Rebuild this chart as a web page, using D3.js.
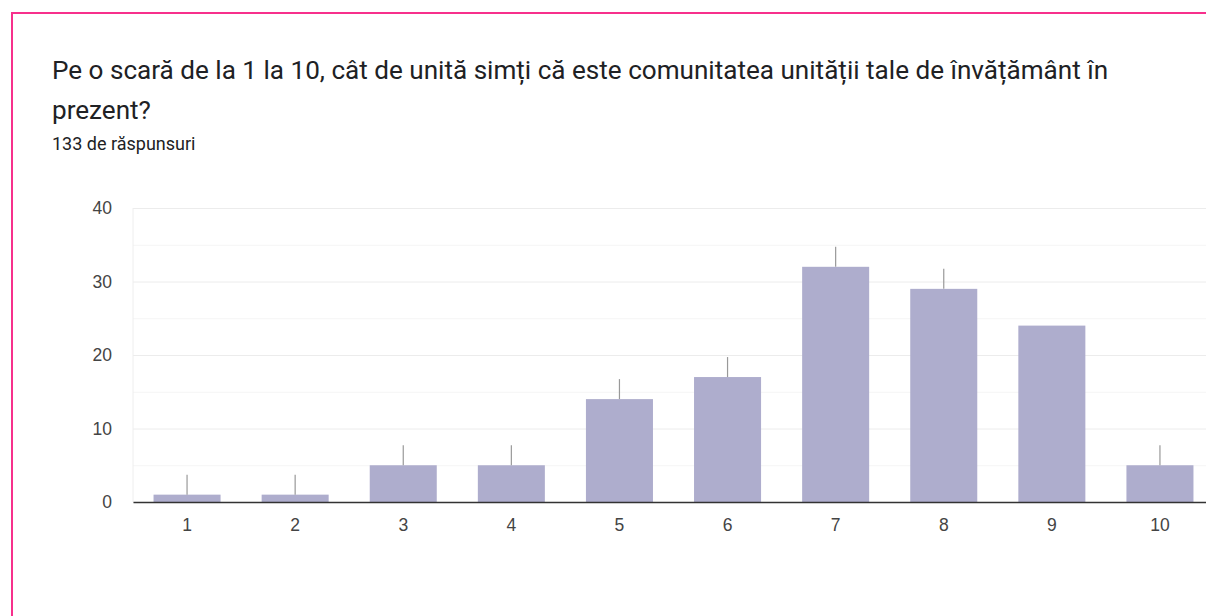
<!DOCTYPE html>
<html>
<head>
<meta charset="utf-8">
<script src="https://cdn.jsdelivr.net/npm/d3@7"></script>
<style>
  body { margin: 0; background: #fff; font-family: Roboto, "Noto Sans", sans-serif; }
  .grid line { stroke: #ececec; }
  .grid.minor line { stroke: #f5f5f5; }
  .grid .domain { display: none; }
</style>
</head>
<body>
<div id="chart"></div>
<script>
// answers on the 1..10 scale and how many people picked each
var categories = ["1", "2", "3", "4", "5", "6", "7", "8", "9", "10"];
var counts = [1, 1, 5, 5, 14, 17, 32, 29, 24, 5];
var hasStem = [true, true, true, true, true, true, true, true, false, true];
var yTicks = [0, 10, 20, 30, 40];
var yMinorTicks = [5, 15, 25, 35];
var titleLines = [
  "Pe o scară de la 1 la 10, cât de unită simți că este comunitatea unității tale de învățământ în",
  "prezent?"
];
var subtitle = "133 de răspunsuri";

var width = 1206, height = 616;
var margin = { top: 208, right: -8, bottom: 114, left: 133 };
var innerWidth = width - margin.left - margin.right,
  innerHeight = height - margin.top - margin.bottom;
var tickFont = "'Liberation Sans', Arial, sans-serif";

var svg = d3.select("#chart")
  .append("svg")
  .attr("width", width)
  .attr("height", height);

// card border (pink, top and left only visible)
svg.append("line")
  .attr("x1", 11).attr("x2", width).attr("y1", 13).attr("y2", 13)
  .attr("stroke", "#f7308c").attr("stroke-width", 2);
svg.append("line")
  .attr("x1", 12).attr("x2", 12).attr("y1", 12).attr("y2", height)
  .attr("stroke", "#f7308c").attr("stroke-width", 2);

// title + subtitle
svg.selectAll(".title")
  .data(titleLines)
  .enter()
  .append("text")
  .attr("class", "title")
  .attr("x", 52)
  .attr("y", (d, i) => 79 + i * 40)
  .attr("font-size", 26.1)
  .attr("fill", "#202124")
  .text(d => d);

svg.append("text")
  .attr("x", 52).attr("y", 150)
  .attr("font-size", 18)
  .attr("fill", "#202124")
  .text(subtitle);

var g = svg.append("g")
  .attr("transform", "translate(" + margin.left + "," + margin.top + ")");

var x = d3.scaleBand().domain(categories).range([0, innerWidth]).paddingInner(0.38).paddingOuter(0.19);
var y = d3.scaleLinear().domain([0, 40]).range([innerHeight, 0]);

// gridlines
g.append("g")
  .attr("class", "grid minor")
  .call(d3.axisLeft(y).tickValues(yMinorTicks).tickSize(-innerWidth).tickFormat(""));
g.append("g")
  .attr("class", "grid")
  .call(d3.axisLeft(y).tickValues(yTicks).tickSize(-innerWidth).tickFormat(""));
g.append("line")
  .attr("x1", 0).attr("x2", 0)
  .attr("y1", y(40)).attr("y2", y(0))
  .attr("stroke", "#eeeeee");

// y labels
var gY = g.append("g")
  .call(d3.axisLeft(y).tickValues(yTicks).tickSize(0).tickPadding(21));
gY.select(".domain").remove();
gY.selectAll("text")
  .attr("font-family", tickFont)
  .attr("font-size", 17.5)
  .attr("fill", "#444");

// bars
g.selectAll(".bar")
  .data(counts)
  .enter()
  .append("rect")
  .attr("class", "bar")
  .attr("x", (d, i) => x(categories[i]))
  .attr("y", d => y(d))
  .attr("width", x.bandwidth())
  .attr("height", d => innerHeight - y(d))
  .attr("fill", "#aeadcd");

// annotation stems above bars
g.selectAll(".stem")
  .data(counts.map((d, i) => ({ v: d, c: categories[i], s: hasStem[i] })).filter(d => d.s))
  .enter()
  .append("line")
  .attr("class", "stem")
  .attr("x1", d => x(d.c) + x.bandwidth() / 2)
  .attr("x2", d => x(d.c) + x.bandwidth() / 2)
  .attr("y1", d => y(d.v))
  .attr("y2", d => y(d.v) - 20)
  .attr("stroke", "#999")
  .attr("stroke-width", 1.2);

// x axis / baseline
var gX = g.append("g")
  .attr("transform", "translate(0," + innerHeight + ")")
  .call(d3.axisBottom(x).tickSize(0).tickPadding(17));
gX.select(".domain")
  .attr("stroke", "#333")
  .attr("stroke-width", 1.5);
gX.selectAll("text")
  .attr("font-family", tickFont)
  .attr("font-size", 17.5)
  .attr("fill", "#444");
</script>
</body>
</html>
